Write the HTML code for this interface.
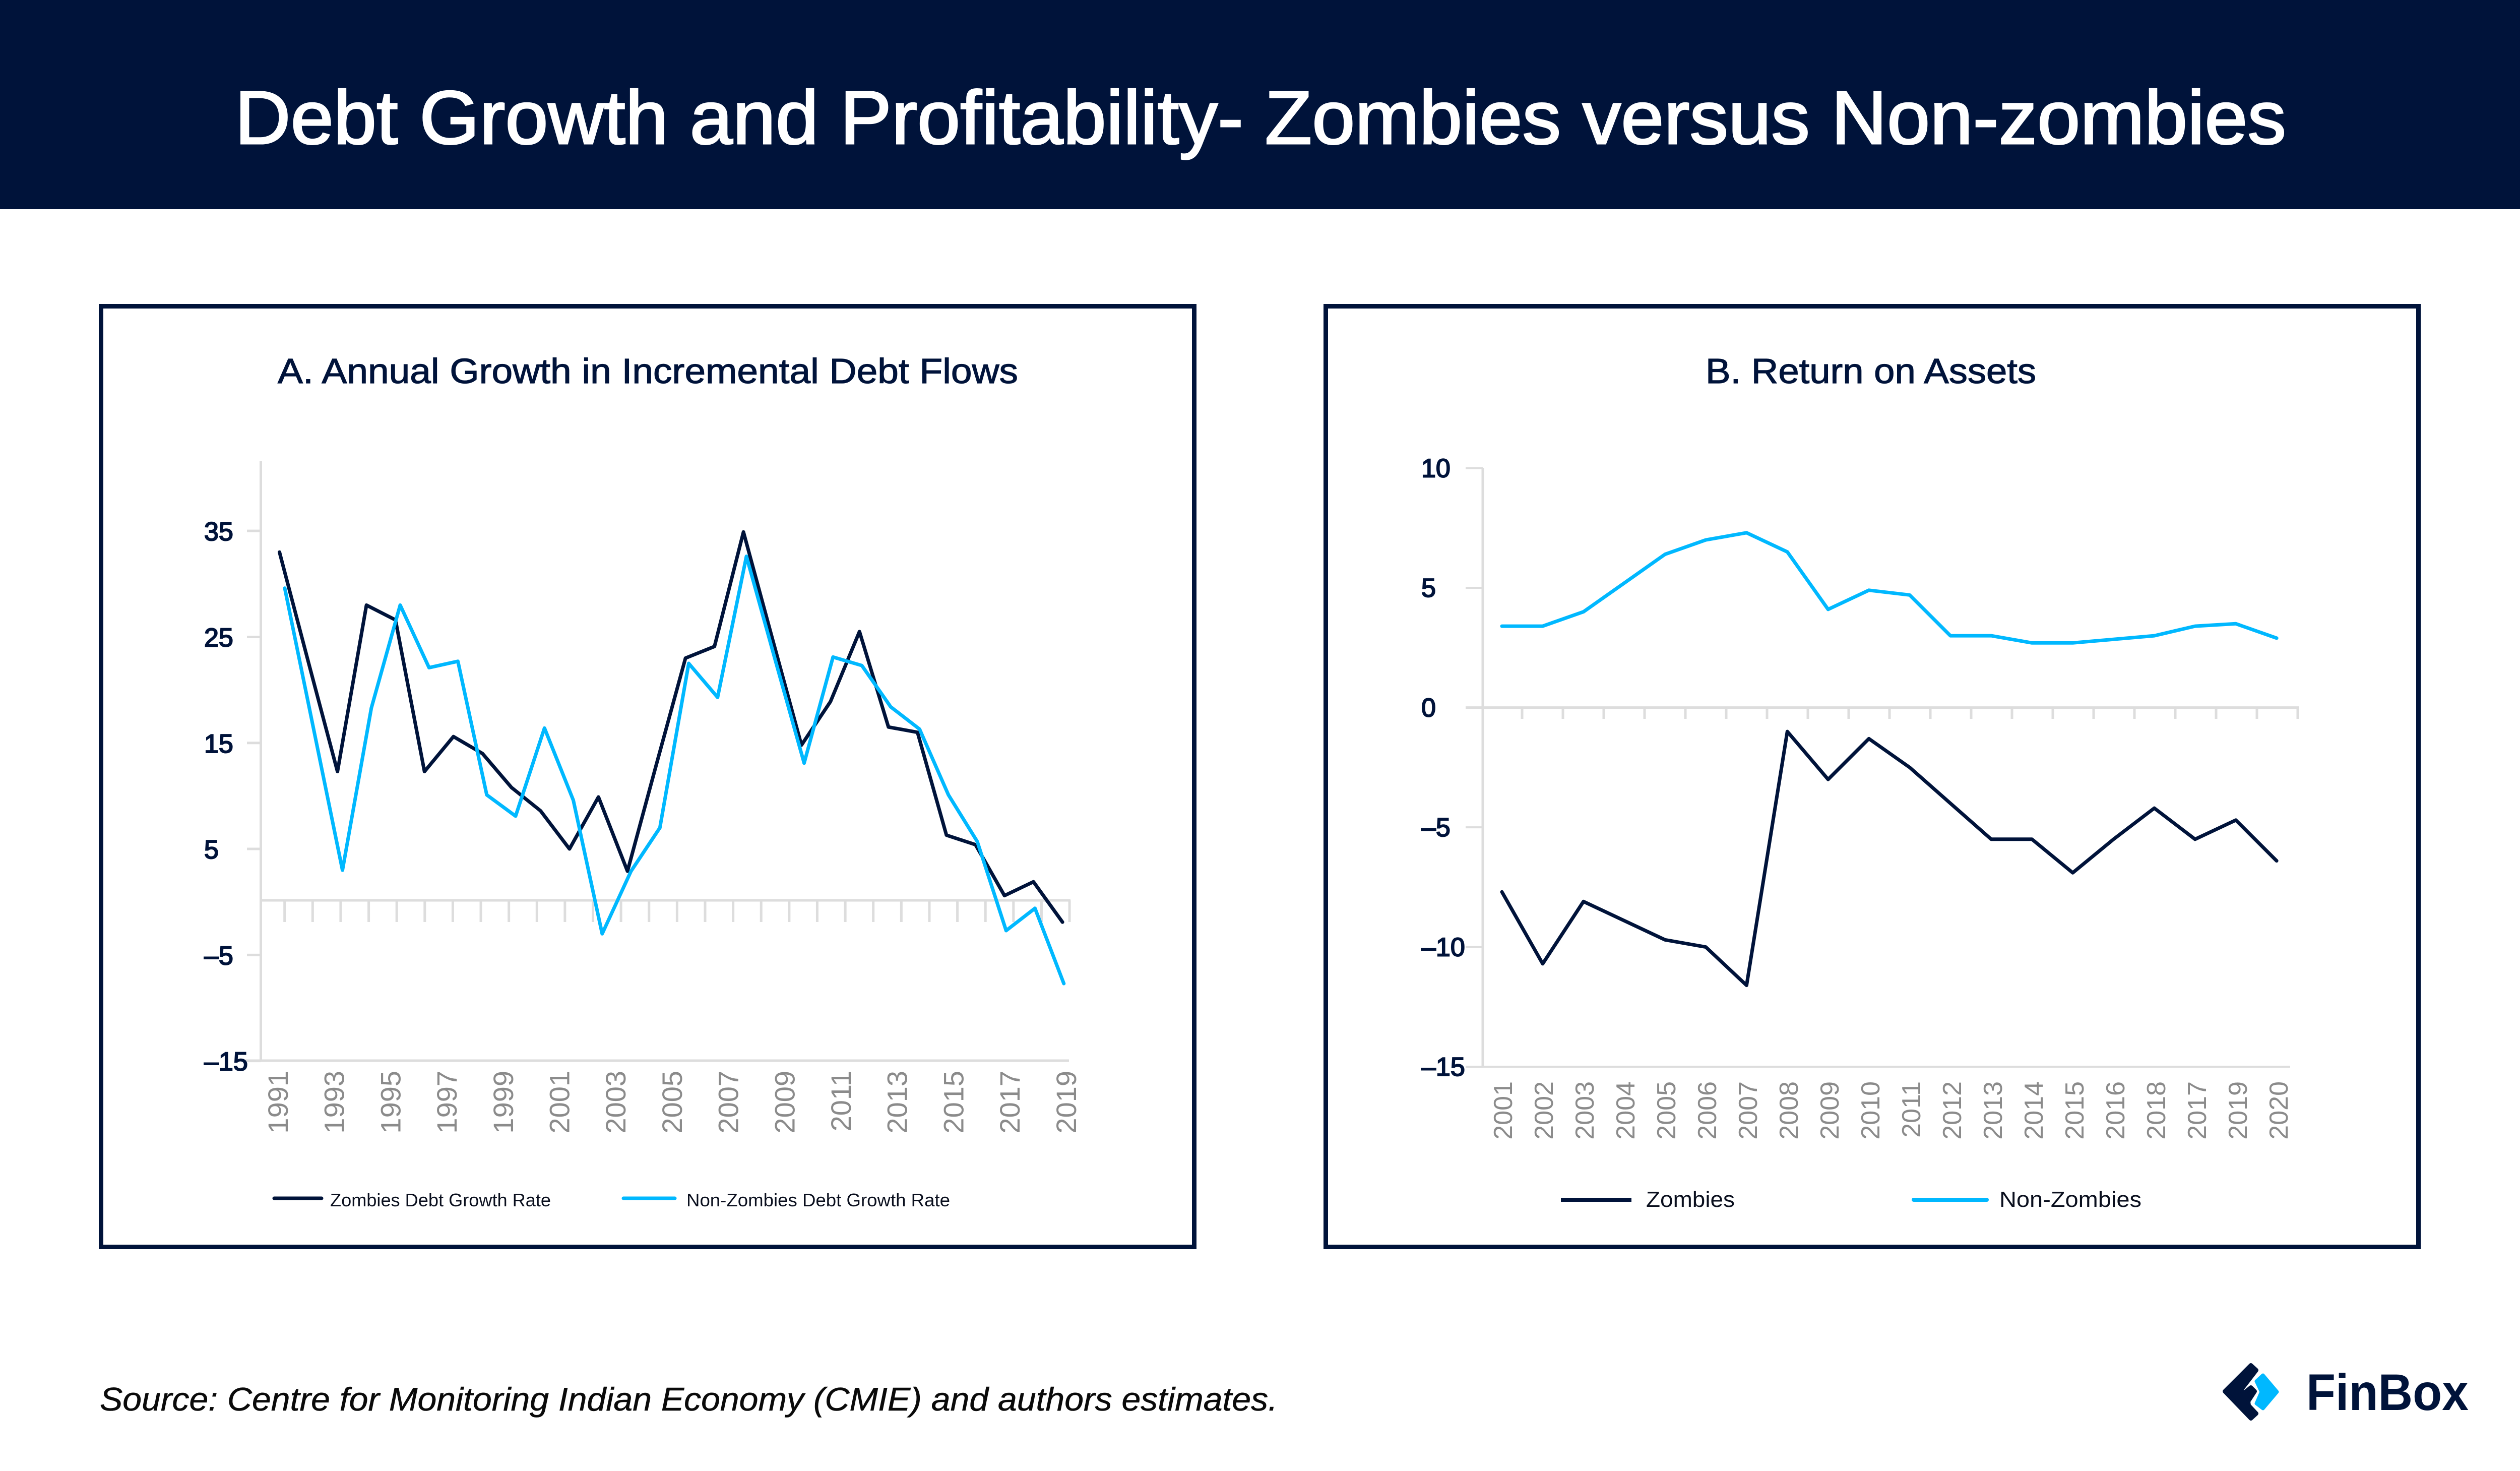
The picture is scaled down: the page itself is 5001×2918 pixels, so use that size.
<!DOCTYPE html>
<html lang="en">
<head>
<meta charset="utf-8">
<title>Debt Growth and Profitability - Zombies versus Non-zombies</title>
<style>
html,body{margin:0;padding:0;background:#fff;width:5001px;height:2918px;overflow:hidden}
svg{display:block;font-family:"Liberation Sans",sans-serif}
.tick-num{font-size:52px;fill:#00133a;stroke:#00133a;stroke-width:2px}
.year{fill:#8b8b8b}
</style>
</head>
<body>
<svg id="page" xmlns="http://www.w3.org/2000/svg" width="5001" height="2918" viewBox="0 0 5001 2918">
  <rect x="0" y="0" width="5001" height="2918" fill="#ffffff"/>
  <rect x="0" y="0" width="5001" height="415" fill="#00133a"/>
  <text x="466" y="285" font-size="150" fill="#ffffff" stroke="#ffffff" stroke-width="3" textLength="4070" lengthAdjust="spacingAndGlyphs">Debt Growth and Profitability- Zombies versus Non-zombies</text>

  <rect x="200.500" y="607.500" width="2169" height="1866" fill="#ffffff" stroke="#00133a" stroke-width="9"/>
  <text x="551" y="760" font-size="70" fill="#00133a" stroke="#00133a" stroke-width="1.2" textLength="1469" lengthAdjust="spacingAndGlyphs">A. Annual Growth in Incremental Debt Flows</text>
  <g id="chart-a"></g>
  <line x1="544" y1="2377" x2="638" y2="2377" stroke="#00133a" stroke-width="7" stroke-linecap="round"/>
  <text x="655" y="2393" font-size="36" fill="#0a0f1e" textLength="438" lengthAdjust="spacingAndGlyphs">Zombies Debt Growth Rate</text>
  <line x1="1237" y1="2377" x2="1339" y2="2377" stroke="#00b8ff" stroke-width="7" stroke-linecap="round"/>
  <text x="1362" y="2393" font-size="36" fill="#0a0f1e" textLength="523" lengthAdjust="spacingAndGlyphs">Non-Zombies Debt Growth Rate</text>

  <rect x="2630.500" y="607.500" width="2168" height="1866" fill="#ffffff" stroke="#00133a" stroke-width="9"/>
  <text x="3384" y="760" font-size="70" fill="#00133a" stroke="#00133a" stroke-width="1.2" textLength="656" lengthAdjust="spacingAndGlyphs">B. Return on Assets</text>
  <g id="chart-b"></g>
  <line x1="3097" y1="2380" x2="3237" y2="2380" stroke="#00133a" stroke-width="8"/>
  <text x="3266" y="2394" font-size="44" fill="#0a0f1e" textLength="176" lengthAdjust="spacingAndGlyphs">Zombies</text>
  <line x1="3797" y1="2380" x2="3942" y2="2380" stroke="#00b8ff" stroke-width="8" stroke-linecap="round"/>
  <text x="3967" y="2394" font-size="44" fill="#0a0f1e" textLength="282" lengthAdjust="spacingAndGlyphs">Non-Zombies</text>

  <text x="198" y="2798" font-size="65" font-style="italic" fill="#0a0a0a" stroke="#0a0a0a" stroke-width="0.6" textLength="2337" lengthAdjust="spacingAndGlyphs">Source: Centre for Monitoring Indian Economy (CMIE) and authors estimates.</text>

  <g>
    <polygon points="4466,2708 4477,2718 4447,2757 4451,2764 4466,2752 4474,2760 4461,2780 4462,2788 4477,2804 4466,2814 4414,2760" fill="#00133a" stroke="#00133a" stroke-width="8" stroke-linejoin="round"/>
    <polygon points="4490,2728 4518,2761 4490,2794 4477,2784 4487,2761 4477,2740" fill="#00b8ff" stroke="#00b8ff" stroke-width="7" stroke-linejoin="round"/>
    <text x="4576" y="2797" font-size="102" font-weight="bold" fill="#00133a" textLength="322" lengthAdjust="spacingAndGlyphs">FinBox</text>
  </g>
</svg>
<script>
// ---------- Panel A data ----------
const debtYears = [1991,1992,1993,1994,1995,1996,1997,1998,1999,2000,2001,2002,2003,2004,2005,2006,2007,2008,2009,2010,2011,2012,2013,2014,2015,2016,2017,2018];
const zombiesDebtGrowth = [33.0,22.6,12.3,28.0,26.6,12.3,15.6,14.0,10.8,8.6,5.0,9.9,2.9,13.0,23.0,24.1,34.9,24.8,14.8,18.9,25.5,16.5,16.0,6.3,5.4,0.6,1.9,-1.9];
const nonZombiesDebtGrowth = [29.6,16.3,3.0,18.3,28.0,22.1,22.7,10.1,8.1,16.4,9.6,-3.0,2.9,7.0,22.5,19.3,32.6,22.8,13.1,23.1,22.3,18.4,16.3,10.1,5.7,-2.7,-0.6,-7.7];
const debtYTicks = [35,25,15,5,-5,-15];
const debtYearLabels = ['1991','1993','1995','1997','1999','2001','2003','2005','2007','2009','2011','2013','2015','2017','2019'];

// ---------- Panel B data ----------
const roaYearLabels = ['2001','2002','2003','2004','2005','2006','2007','2008','2009','2010','2011','2012','2013','2014','2015','2016','2018','2017','2019','2020'];
const zombiesRoa = [-7.7,-10.7,-8.1,-8.9,-9.7,-10.0,-11.6,-1.0,-3.0,-1.3,-2.5,-4.0,-5.5,-5.5,-6.9,-5.5,-4.2,-5.5,-4.7,-6.4];
const nonZombiesRoa = [3.4,3.4,4.0,5.2,6.4,7.0,7.3,6.5,4.1,4.9,4.7,3.0,3.0,2.7,2.7,2.85,3.0,3.4,3.5,2.9];
const roaYTicks = [10,5,0,-5,-10,-15];

const NS = 'http://www.w3.org/2000/svg';
function mk(parent, tag, attrs, text) {
  const el = document.createElementNS(NS, tag);
  for (const k in attrs) el.setAttribute(k, attrs[k]);
  if (text !== undefined) el.textContent = text;
  parent.appendChild(el);
  return el;
}
function pathFrom(values, xf, yf) {
  return values.map((v, i) => (i ? 'L' : 'M') + xf(i).toFixed(1) + ' ' + yf(v).toFixed(1)).join(' ');
}
const AXIS = '#dddddd';
const NAVY = '#00133a';
const BLUE = '#00b8ff';

// ---------- Panel A ----------
(function () {
  const g = document.getElementById('chart-a');
  const y = v => 1789.2 - v * 21.03;
  const xZombie = i => 554.5 + i * 57.54;
  const xNon = i => 565 + i * 57.25;
  const tickX = i => 564.7 + i * 55.62;
  const labelX = i => 551 + i * 111.7;

  let el = mk(g, 'line', {x1: 517.5, y1: 915, x2: 517.5, y2: 2104, stroke: AXIS, 'stroke-width': 5});
  
  
  el = mk(g, 'line', {x1: 487, y1: 2104, x2: 2121, y2: 2104, stroke: AXIS, 'stroke-width': 5});
  
  
  el = mk(g, 'line', {x1: 517, y1: 1786, x2: 2124, y2: 1786, stroke: AXIS, 'stroke-width': 5});
  
  

  for (let i = 0; i < 29; i++) {
    el = mk(g, 'line', {x1: tickX(i), y1: 1786, x2: tickX(i), y2: 1829, stroke: AXIS, 'stroke-width': 5});
    
    
  }
  debtYTicks.forEach(v => {
    el = mk(g, 'line', {x1: 490, y1: y(v), x2: 517, y2: y(v), stroke: AXIS, 'stroke-width': 5});
    
    
    el = mk(g, 'text', {x: 405, y: y(v) + 19, class: 'tick-num'}, String(v).replace('-', '\u2013'));
    
    
  });
  debtYearLabels.forEach((t, i) => {
    el = mk(g, 'text', {transform: 'translate(' + (labelX(i) + 20) + ' 2124) rotate(-90)', 'text-anchor': 'end', 'font-size': 56, class: 'year'}, t);
    
    
  });
  el = mk(g, 'path', {d: pathFrom(zombiesDebtGrowth, xZombie, y), fill: 'none', stroke: NAVY, 'stroke-width': 7, 'stroke-linejoin': 'round', 'stroke-linecap': 'round'});
  
  
  el = mk(g, 'path', {d: pathFrom(nonZombiesDebtGrowth, xNon, y), fill: 'none', stroke: BLUE, 'stroke-width': 7, 'stroke-linejoin': 'round', 'stroke-linecap': 'round'});
  
  
})();

// ---------- Panel B ----------
(function () {
  const g = document.getElementById('chart-b');
  const y = v => 1403.6 - v * 47.5;
  const x = i => 2980 + i * 80.9;
  const tickX = i => 3020 + i * 81;
  const labelX = i => 2981 + i * 81;

  let el = mk(g, 'line', {x1: 2942, y1: 928, x2: 2942, y2: 2116, stroke: AXIS, 'stroke-width': 5});
  
  
  el = mk(g, 'line', {x1: 2908, y1: 2116, x2: 4544, y2: 2116, stroke: AXIS, 'stroke-width': 4});
  
  
  el = mk(g, 'line', {x1: 2908, y1: y(0), x2: 4562, y2: y(0), stroke: AXIS, 'stroke-width': 5});
  
  

  for (let i = 0; i < 20; i++) {
    el = mk(g, 'line', {x1: tickX(i), y1: y(0), x2: tickX(i), y2: 1426, stroke: AXIS, 'stroke-width': 5});
    
    
  }
  roaYTicks.forEach(v => {
    el = mk(g, 'line', {x1: 2908, y1: y(v), x2: 2942, y2: y(v), stroke: AXIS, 'stroke-width': 4});
    
    
    el = mk(g, 'text', {x: 2820, y: y(v) + 18, class: 'tick-num'}, String(v).replace('-', '\u2013'));
    
    
  });
  roaYearLabels.forEach((t, i) => {
    el = mk(g, 'text', {transform: 'translate(' + (labelX(i) + 19) + ' 2145) rotate(-90)', 'text-anchor': 'end', 'font-size': 52, class: 'year'}, t);
    
    
  });
  el = mk(g, 'path', {d: pathFrom(zombiesRoa, x, y), fill: 'none', stroke: NAVY, 'stroke-width': 7, 'stroke-linejoin': 'round', 'stroke-linecap': 'round'});
  
  
  el = mk(g, 'path', {d: pathFrom(nonZombiesRoa, x, y), fill: 'none', stroke: BLUE, 'stroke-width': 7, 'stroke-linejoin': 'round', 'stroke-linecap': 'round'});
  
  
})();
</script>
</body>
</html>
